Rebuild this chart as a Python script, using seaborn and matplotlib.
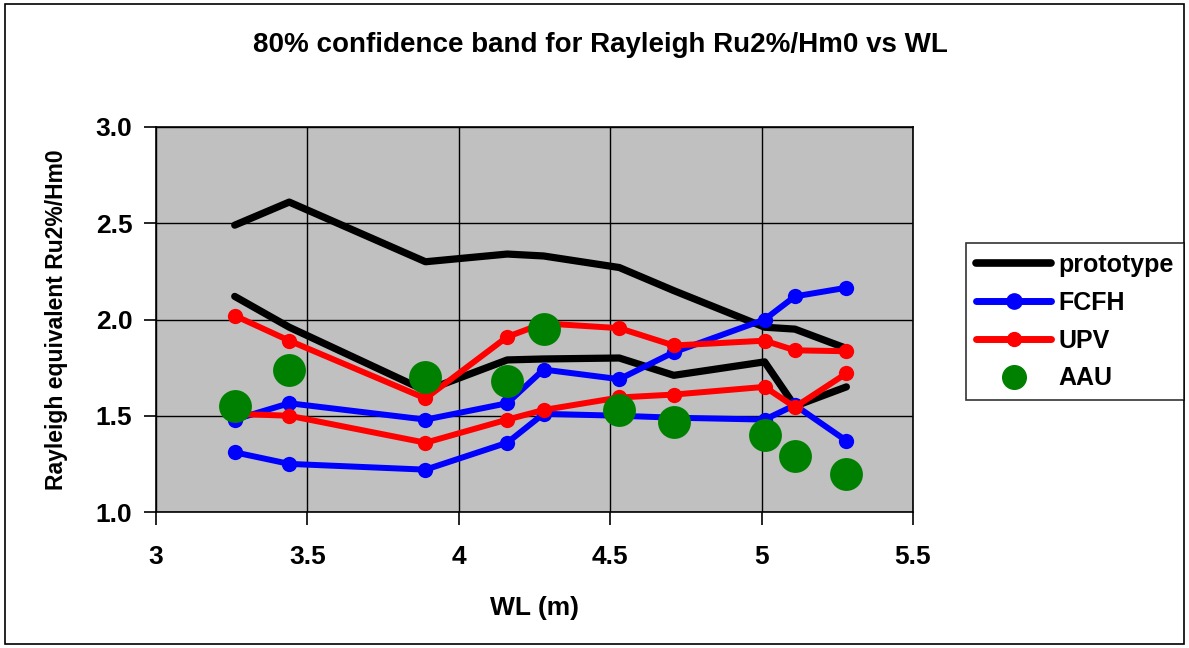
import matplotlib
matplotlib.use("Agg")
import matplotlib.pyplot as plt
import seaborn as sns
import pandas as pd
from matplotlib.lines import Line2D

sns.set_theme(style="white")
plt.rcParams['font.family'] = ['Liberation Sans', 'DejaVu Sans']
plt.rcParams['text.color'] = 'black'
plt.rcParams['axes.labelcolor'] = 'black'
plt.rcParams['xtick.color'] = 'black'
plt.rcParams['ytick.color'] = 'black'

# ---- data ----
wl = [3.26, 3.44, 3.89, 4.16, 4.28, 4.53, 4.71, 5.01, 5.11, 5.28]
prototype_upper = [2.49, 2.61, 2.30, 2.34, 2.33, 2.27, 2.15, 1.96, 1.95, 1.85]
prototype_lower = [2.12, 1.96, 1.63, 1.79, 1.795, 1.80, 1.71, 1.78, 1.55, 1.65]
fcfh_upper = [1.48, 1.565, 1.48, 1.565, 1.74, 1.69, 1.83, 2.00, 2.12, 2.165]
fcfh_lower = [1.31, 1.25, 1.22, 1.36, 1.51, 1.50, 1.49, 1.48, 1.555, 1.37]
upv_upper = [2.02, 1.89, 1.59, 1.91, 1.98, 1.955, 1.865, 1.89, 1.84, 1.835]
upv_lower = [1.51, 1.50, 1.36, 1.48, 1.53, 1.595, 1.61, 1.65, 1.545, 1.72]
aau = [1.55, 1.74, 1.70, 1.68, 1.95, 1.53, 1.47, 1.40, 1.29, 1.20]

x_ticks = [3, 3.5, 4, 4.5, 5, 5.5]
y_ticks = [1.0, 1.5, 2.0, 2.5, 3.0]

fig = plt.figure(figsize=(11.89, 6.48), dpi=100)
ax = fig.add_axes([156/1189, 1-512/648, (913-156)/1189, (512-127)/648])
ax.set_facecolor('#C0C0C0')

line_kw = dict(ax=ax, sort=False, legend=False)
sns.lineplot(x=wl, y=prototype_upper, color='black', linewidth=5.2, **line_kw)
sns.lineplot(x=wl, y=prototype_lower, color='black', linewidth=5.2, **line_kw)
for ys in (fcfh_upper, fcfh_lower):
    sns.lineplot(x=wl, y=ys, color='#0000FF', linewidth=4.3, marker='o',
                 markersize=11, markeredgewidth=0, **line_kw)
for ys in (upv_upper, upv_lower):
    sns.lineplot(x=wl, y=ys, color='#FF0000', linewidth=4.3, marker='o',
                 markersize=11, markeredgewidth=0, **line_kw)
sns.scatterplot(x=wl, y=aau, ax=ax, color='#008000', s=560, linewidth=0,
                legend=False, zorder=5)

ax.set_xlim(3, 5.5)
ax.set_ylim(1.0, 3.0)
ax.set_xticks(x_ticks)
ax.set_xticklabels([f"{t:g}" for t in x_ticks])
ax.set_yticks(y_ticks)
ax.set_yticklabels([f"{t:.1f}" for t in y_ticks])
ax.grid(True, color='black', linewidth=1.0)
ax.set_axisbelow(True)
for s in ax.spines.values():
    s.set_color('black')
    s.set_linewidth(1.2)
ax.tick_params(axis='both', which='major', bottom=True, left=True,
               direction='out', length=9, width=1.2, color='black',
               labelsize=19, labelcolor='black')
ax.tick_params(axis='x', pad=15)
ax.tick_params(axis='y', pad=8)
for lab in ax.get_xticklabels() + ax.get_yticklabels():
    lab.set_fontweight('bold')

ax.set_xlabel('WL (m)', fontsize=19, fontweight='bold', labelpad=19, color='black')
ax.set_ylabel('Rayleigh equivalent Ru2%/Hm0', fontsize=16.5, fontweight='bold',
              labelpad=20, color='black')
fig.text(600/1189, 1-45/648, '80% confidence band for Rayleigh Ru2%/Hm0 vs WL',
         ha='center', va='center', fontsize=20, fontweight='bold', color='black')

handles = [
    Line2D([], [], color='black', linewidth=5.5),
    Line2D([], [], color='#0000FF', linewidth=5, marker='o', markersize=11),
    Line2D([], [], color='#FF0000', linewidth=5, marker='o', markersize=10),
    Line2D([], [], color='#008000', linestyle='none', marker='o', markersize=17),
]
leg = fig.legend(handles, ['prototype', 'FCFH', 'UPV', 'AAU'],
                 loc='upper left', bbox_to_anchor=(966/1189, 1-243/648),
                 frameon=True, fancybox=False,
                 prop={'weight': 'bold', 'size': 18}, handlelength=3.0,
                 handletextpad=0.3, borderpad=0.4, labelspacing=0.55,
                 borderaxespad=0)
leg.get_frame().set_edgecolor('black')
leg.get_frame().set_linewidth(1.2)
for t in leg.get_texts():
    t.set_color('black')

border = plt.Rectangle((0.004, 0.006), 0.992, 0.988, transform=fig.transFigure,
                       fill=False, edgecolor='black', linewidth=1.2)
fig.patches.append(border)

fig.savefig('out.png', dpi=100, facecolor='white')
